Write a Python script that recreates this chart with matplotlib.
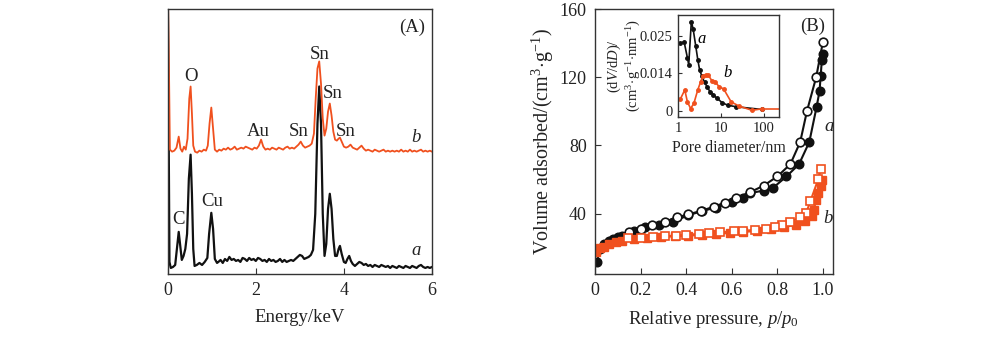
import matplotlib
matplotlib.use("Agg")
import matplotlib.pyplot as plt
import numpy as np

plt.rcParams['font.family'] = ['Liberation Serif', 'DejaVu Serif']
plt.rcParams['mathtext.fontset'] = 'custom'
plt.rcParams['mathtext.rm'] = 'Liberation Serif'
plt.rcParams['mathtext.it'] = 'Liberation Serif:italic'
plt.rcParams['axes.linewidth'] = 1.0
plt.rcParams['axes.edgecolor'] = '#333333'

ORANGE = '#f0501e'
BLACK = '#111111'

# ---- panel A: EDS spectra (height in arbitrary units) ----
eds_a_e = [0.00, 0.02, 0.04, 0.07, 0.12, 0.17, 0.21, 0.25, 0.28, 0.32, 0.36, 0.40, 0.44, 0.48, 0.52,
           0.55, 0.58, 0.61, 0.66, 0.72, 0.78, 0.84, 0.90, 0.94, 0.99, 1.03, 1.07, 1.12,
           1.15, 1.20, 1.25, 1.30, 1.35, 1.40, 1.45, 1.50, 1.55, 1.60, 1.65, 1.70, 1.75, 1.80,
           1.85, 1.90, 1.95, 2.00, 2.05, 2.10, 2.15, 2.20, 2.25, 2.30, 2.35, 2.40, 2.45, 2.50,
           2.55, 2.60, 2.65, 2.70, 2.75, 2.80, 2.85, 2.90, 2.95, 3.00, 3.05, 3.10, 3.15, 3.20,
           3.25, 3.30, 3.35, 3.40, 3.44, 3.48, 3.52, 3.56, 3.60, 3.64, 3.68, 3.72, 3.76, 3.80,
           3.84, 3.88, 3.91, 3.95, 4.00, 4.04, 4.08, 4.12, 4.16, 4.20, 4.25, 4.30, 4.35, 4.40,
           4.45, 4.50, 4.55, 4.60, 4.65, 4.70, 4.75, 4.80, 4.85, 4.90, 4.95, 5.00, 5.05, 5.10,
           5.15, 5.20, 5.25, 5.30, 5.35, 5.40, 5.45, 5.50, 5.55, 5.60, 5.65, 5.70, 5.75, 5.80,
           5.85, 5.90, 5.95, 6.00]
eds_a_i = [300, 150, 12, 6, 7, 9, 25, 42, 30, 14, 18, 25, 40, 95, 119,
           80, 25, 8, 9, 11, 9, 12, 16, 40, 61, 45, 15, 11,
           12, 14, 11, 15, 13, 17, 14, 15, 13, 14, 12, 16, 15, 13,
           16, 14, 15, 13, 16, 15, 13, 14, 12, 15, 13, 14, 12, 13,
           15, 12, 14, 12, 13, 14, 13, 15, 17, 19, 18, 15, 16, 17,
           19, 24, 60, 150, 187, 150, 60, 18, 30, 65, 80, 65, 35, 18,
           18, 25, 28, 20, 12, 11, 15, 18, 13, 10, 8, 10, 12, 11,
           9, 10, 8, 9, 7, 9, 8, 7, 9, 8, 7, 8, 6, 8,
           7, 6, 8, 7, 6, 8, 7, 6, 8, 7, 6, 8, 9, 7,
           6, 7, 6, 7]

eds_b_e = [0.00, 0.03, 0.05, 0.10, 0.15, 0.20, 0.25, 0.29, 0.33, 0.37, 0.41, 0.45, 0.49, 0.52,
           0.55, 0.58, 0.62, 0.67, 0.72, 0.77, 0.82, 0.87, 0.91, 0.95, 0.99, 1.03, 1.07, 1.12,
           1.17, 1.22, 1.27, 1.32, 1.37, 1.42, 1.47, 1.52, 1.57, 1.62, 1.67, 1.72, 1.77, 1.82,
           1.87, 1.92, 1.97, 2.02, 2.07, 2.12, 2.17, 2.22, 2.27, 2.32, 2.37, 2.42, 2.47, 2.52,
           2.57, 2.62, 2.67, 2.72, 2.77, 2.82, 2.87, 2.92, 2.97, 3.02, 3.07, 3.12, 3.17, 3.22,
           3.27, 3.32, 3.36, 3.40, 3.44, 3.48, 3.52, 3.56, 3.60, 3.64, 3.68, 3.72, 3.76, 3.80,
           3.84, 3.88, 3.91, 3.95, 4.00, 4.05, 4.10, 4.15, 4.20, 4.25, 4.30, 4.35, 4.40, 4.45,
           4.50, 4.55, 4.60, 4.65, 4.70, 4.75, 4.80, 4.85, 4.90, 4.95, 5.00, 5.05, 5.10, 5.15,
           5.20, 5.25, 5.30, 5.35, 5.40, 5.45, 5.50, 5.55, 5.60, 5.65, 5.70, 5.75, 5.80, 5.85,
           5.90, 5.95, 6.00]
eds_b_i = [300, 200, 124, 122, 123, 126, 137, 125, 122, 127, 124, 135, 175, 187,
           160, 128, 122, 121, 123, 122, 124, 123, 128, 150, 166, 145, 124, 122,
           124, 123, 125, 124, 126, 124, 125, 127, 124, 125, 126, 125, 127, 126,
           125, 124, 126, 125, 128, 134, 127, 124, 125, 124, 126, 125, 124, 126,
           125, 124, 126, 127, 125, 126, 125, 127, 129, 132, 128, 126, 127, 128,
           130, 140, 175, 205, 212, 190, 155, 138, 145, 162, 170, 158, 142, 134,
           133, 135, 136, 132, 127, 126, 127, 129, 126, 125, 124, 126, 128, 125,
           123, 124, 123, 122, 124, 123, 122, 123, 124, 122, 123, 122, 123, 122,
           123, 122, 124, 122, 123, 122, 124, 122, 123, 122, 123, 124, 122, 123,
           122, 123, 122]

# ---- panel B: N2 isotherms ----
a_ads_p = [0.01, 0.02, 0.04, 0.06, 0.08, 0.10, 0.12, 0.17, 0.22, 0.28, 0.34, 0.41, 0.47, 0.53,
           0.60, 0.65, 0.68, 0.74, 0.78, 0.84, 0.895, 0.94, 0.972, 0.985, 0.99, 0.995, 0.998]
a_ads_v = [11.7, 19.4, 22.3, 23.6, 24.8, 26.1, 26.7, 29.5, 31.9, 33.5, 35.2, 39.0, 41.5, 43.5,
           46.7, 48.9, 52.0, 53.5, 55.0, 61.8, 69.0, 82.0, 102.6, 112.0, 121.0, 130.0, 134.0]
a_des_p = [1.0, 0.97, 0.93, 0.90, 0.857, 0.80, 0.74, 0.68, 0.62, 0.57, 0.52, 0.465, 0.41,
           0.36, 0.305, 0.25, 0.20, 0.15]
a_des_v = [141.0, 120.0, 100.3, 82.0, 69.0, 61.8, 56.4, 52.5, 49.2, 46.4, 44.0, 41.5, 39.6,
           37.7, 35.2, 33.3, 31.0, 29.0]
b_ads_p = [0.006, 0.02, 0.04, 0.06, 0.09, 0.12, 0.17, 0.23, 0.29, 0.35, 0.41, 0.47, 0.53,
           0.59, 0.65, 0.71, 0.77, 0.83, 0.88, 0.92, 0.95, 0.96, 0.97, 0.98, 0.99, 0.997]
b_ads_v = [17.5, 19.5, 20.3, 22.0, 23.2, 24.0, 24.8, 25.5, 26.0, 26.7, 27.0, 27.6, 28.0,
           28.6, 29.2, 29.8, 30.8, 32.0, 33.5, 35.5, 38.6, 42.0, 48.0, 52.0, 56.0, 60.0]
b_des_p = [0.99, 0.98, 0.945, 0.927, 0.90, 0.857, 0.82, 0.79, 0.75, 0.70, 0.65, 0.61, 0.55,
           0.50, 0.455, 0.40, 0.355, 0.305, 0.256, 0.20, 0.145]
b_des_v = [66.2, 60.4, 47.3, 40.6, 37.7, 35.2, 33.3, 31.9, 31.0, 30.4, 29.8, 29.6, 29.0,
           28.4, 28.0, 27.5, 27.1, 26.7, 26.5, 25.9, 25.5]

# ---- inset: pore size distribution ----
psd_a_d = [1.13, 1.39, 1.66, 1.78, 2.05, 2.26, 2.6, 2.9, 3.2, 3.63, 4.17, 4.87, 5.6, 6.7,
           8.2, 10.9, 14.6, 22.7, 91]
psd_a_v = [0.0225, 0.023, 0.0177, 0.0154, 0.0297, 0.0273, 0.0216, 0.0171, 0.0137, 0.0115,
           0.0095, 0.0079, 0.0064, 0.0053, 0.0042, 0.0027, 0.0019, 0.0014, 0.0005]
psd_b_d = [1.13, 1.44, 1.66, 1.97, 2.35, 2.9, 3.4, 3.83, 4.5, 5.1, 6.15, 7.3, 9.1, 11.7,
           17.5, 27, 54, 91, 230]
psd_b_v = [0.0039, 0.007, 0.003, 0.0008, 0.0025, 0.007, 0.0098, 0.0115, 0.012, 0.012,
           0.0101, 0.0098, 0.0081, 0.0073, 0.003, 0.0016, 0.0002, 0.0007, 0.0007]
psd_ticks = [0, 0.0125, 0.025]
psd_ticklabels = ['0', '0.014', '0.025']

fig = plt.figure(figsize=(10, 3.37), dpi=100)

TICK_FS = 13
LABEL_FS = 13.5

# panel A
axA = fig.add_axes([0.1677, 0.187, 0.2643, 0.7855])
axA.plot(eds_a_e, eds_a_i, color=BLACK, lw=1.6)
axA.plot(eds_b_e, eds_b_i, color=ORANGE, lw=1.3)
axA.set_xlim(0, 6)
axA.set_ylim(0, 264)
axA.set_yticks([])
axA.set_xticks([0, 2, 4, 6])
axA.tick_params(axis='x', direction='in', length=4, labelsize=TICK_FS, pad=6, colors='#333333',
                labelcolor='#222222')
axA.set_xlabel('Energy/keV', fontsize=LABEL_FS, labelpad=7, color='#222222')
txt = dict(fontsize=13.5, color='#222222', ha='center', va='center')
axA.text(5.55, 246, '(A)', **txt)
axA.text(0.52, 197, 'O', **txt)
axA.text(2.05, 142, 'Au', **txt)
axA.text(2.98, 142, 'Sn', **txt)
axA.text(3.45, 219, 'Sn', **txt)
axA.text(3.75, 180, 'Sn', **txt)
axA.text(4.03, 142, 'Sn', **txt)
axA.text(0.25, 54, 'C', **txt)
axA.text(1.02, 72, 'Cu', **txt)
axA.text(5.65, 136, '$b$', **txt)
axA.text(5.65, 23, '$a$', **txt)

# panel B
axB = fig.add_axes([0.595, 0.187, 0.238, 0.7855])
ms = 6.2
axB.plot(a_ads_p, a_ads_v, '-o', color=BLACK, mfc=BLACK, mec=BLACK, ms=ms, lw=1.5)
axB.plot(a_des_p, a_des_v, '-o', color=BLACK, mfc='white', mec=BLACK, ms=ms, lw=1.5, mew=1.2)
axB.plot(b_ads_p, b_ads_v, '-s', color=ORANGE, mfc=ORANGE, mec=ORANGE, ms=5.5, lw=1.5)
axB.plot(b_des_p, b_des_v, '-s', color=ORANGE, mfc='white', mec=ORANGE, ms=5.5, lw=1.5, mew=1.2)
axB.set_xlim(0, 1.044)
axB.set_ylim(4.5, 160)
axB.set_xticks([0, 0.2, 0.4, 0.6, 0.8, 1.0])
axB.set_xticklabels(['0', '0.2', '0.4', '0.6', '0.8', '1.0'])
axB.set_yticks([40, 80, 120, 160])
axB.tick_params(direction='in', length=4, labelsize=TICK_FS, pad=6, colors='#333333',
                labelcolor='#222222')
axB.set_xlabel(r'Relative pressure, $p/p_{\mathrm{0}}$', fontsize=LABEL_FS, labelpad=7,
               color='#222222')
axB.set_ylabel(r'Volume adsorbed/(cm$^{3}\!\cdot\!$g$^{-1}$)', fontsize=14.5, labelpad=3,
               color='#222222')
axB.text(0.955, 150, '(B)', **txt)
axB.text(1.028, 91, '$a$', **txt)
axB.text(1.025, 37, '$b$', **txt)

# inset
axI = fig.add_axes([0.678, 0.653, 0.101, 0.303])
axI.plot(psd_a_d, psd_a_v, '-o', color=BLACK, ms=2.5, lw=1.2)
axI.plot(psd_b_d[:-1], psd_b_v[:-1], '-o', color=ORANGE, ms=2.5, lw=1.2)
axI.plot(psd_b_d[-2:], psd_b_v[-2:], '-', color=ORANGE, lw=1.2)
axI.set_xscale('log')
axI.set_xlim(1, 230)
axI.set_ylim(-0.002, 0.032)
axI.set_xticks([1, 10, 100])
axI.set_xticklabels(['1', '10', '100'])
axI.minorticks_off()
axI.set_yticks(psd_ticks)
axI.set_yticklabels(psd_ticklabels)
axI.tick_params(direction='in', length=3, labelsize=10.5, pad=4, colors='#333333',
                labelcolor='#222222')
axI.set_xlabel('Pore diameter/nm', fontsize=11.5, labelpad=3, color='#222222')
axI.set_ylabel('(d$V$/d$D$)/\n(cm$^{3}\\!\\cdot\\!$g$^{-1}\\!\\cdot\\!$nm$^{-1}$)',
               fontsize=10.5, color='#222222', linespacing=1.1)
axI.yaxis.set_label_coords(-0.35, 0.5)
axI.text(3.6, 0.024, '$a$', fontsize=12, ha='center', va='center')
axI.text(15, 0.0125, '$b$', fontsize=12, ha='center', va='center')

fig.savefig('out.png', dpi=100)
